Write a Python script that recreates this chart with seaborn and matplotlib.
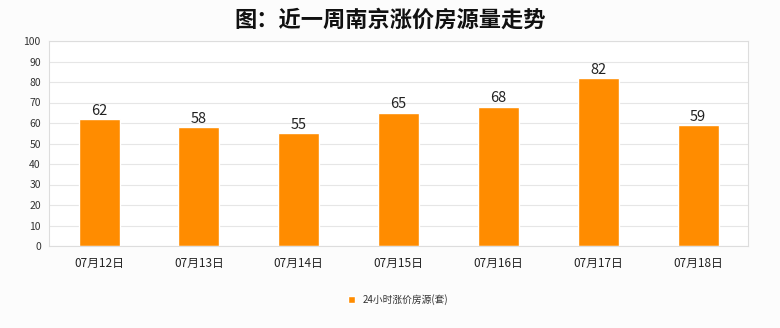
import matplotlib
matplotlib.use("Agg")
import matplotlib.pyplot as plt
import seaborn as sns
import pandas as pd

categories = ["07月12日", "07月13日", "07月14日", "07月15日", "07月16日", "07月17日", "07月18日"]
values = [62, 58, 55, 65, 68, 82, 59]
series_name = "24小时涨价房源(套)"
title = "图：近一周南京涨价房源量走势"

sns.set_theme(style="white")
plt.rcParams['font.family'] = ['Noto Sans CJK SC', 'DejaVu Sans']

df = pd.DataFrame({"date": categories, "value": values})

fig = plt.figure(figsize=(7.8, 3.28), dpi=100, facecolor="#fcfcfc")
ax = fig.add_axes([0.063, 0.25, 0.896, 0.625])
ax.set_facecolor("white")

sns.barplot(data=df, x="date", y="value", color="#ff8c00", width=0.41, ax=ax,
            saturation=1, label=series_name)

for c in ax.containers:
    ax.bar_label(c, fontsize=10.5, padding=1, color="#222222")

ax.set_ylim(0, 100)
ax.set_yticks(range(0, 101, 10))
ax.set_xlim(-0.5, 6.5)
ax.grid(axis="y", color="#e6e6e6", linewidth=0.8)
ax.set_axisbelow(True)
for s in ax.spines.values():
    s.set_color("#dddddd")
    s.set_linewidth(0.8)
ax.tick_params(axis="y", labelsize=7.5, colors="#333333", length=0, pad=6)
ax.tick_params(axis="x", labelsize=8.5, colors="#222222", length=0, pad=8)
ax.set_xlabel("")
ax.set_ylabel("")

fig.suptitle(title, fontsize=16, fontweight="bold", y=0.975, color="#111111")

leg = ax.legend(loc="upper center", bbox_to_anchor=(0.5, -0.19), frameon=False,
                fontsize=7, handlelength=0.7, handleheight=0.7, handletextpad=0.8)
for t in leg.get_texts():
    t.set_color("#333333")

fig.savefig("out.png", dpi=100, facecolor=fig.get_facecolor())
